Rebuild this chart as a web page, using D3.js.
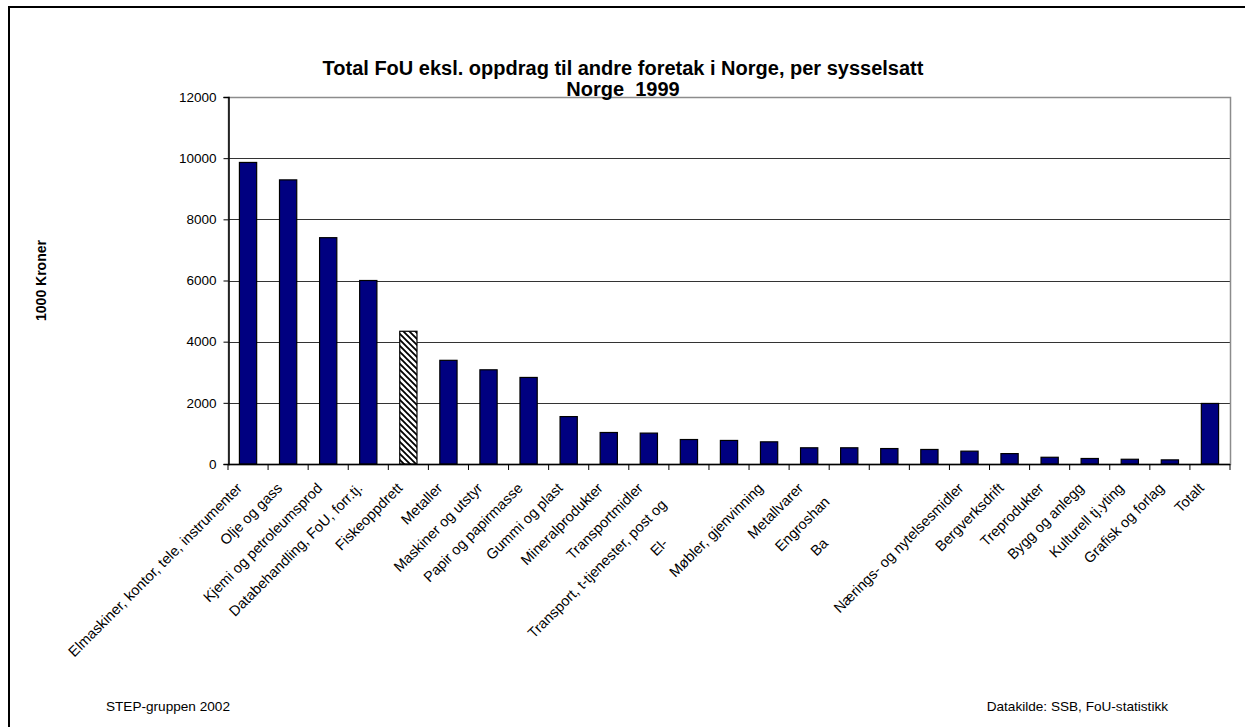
<!DOCTYPE html>
<html>
<head>
  <meta charset="UTF-8">
  <style>
    body { margin: 0; background: #fff; }
    svg { display: block; font-family: "Liberation Sans", Arial, sans-serif; }
  </style>
</head>
<body>
<svg></svg>
<script src="https://d3js.org/d3.v7.min.js"></script>
<script>

let width = 1245, height = 727;

// categories as they show on the axis (some are cut off in the original)
let categories = [
  "Elmaskiner, kontor, tele, instrumenter", "Olje og gass", "Kjemi og petroleumsprod",
  "Databehandling, FoU, forr.tj.", "Fiskeoppdrett", "Metaller", "Maskiner og utstyr",
  "Papir og papirmasse", "Gummi og plast", "Mineralprodukter", "Transportmidler",
  "Transport, t-tjenester, post og", "El-", "Møbler, gjenvinning", "Metallvarer",
  "Engroshan", "Ba", "", "Nærings- og nytelsesmidler", "Bergverksdrift",
  "Treprodukter", "Bygg og anlegg", "Kulturell tj.yting", "Grafisk og forlag", "Totalt"
];
let values = [
  9860, 9290, 7400, 6000, 4340, 3390, 3080, 2830, 1550, 1030,
  1010, 800, 770, 725, 530, 530, 505, 475, 420, 340,
  220, 180, 155, 135, 1980
];
// the cut-off part of the clipped labels, only measured, never drawn
let labelTails = ["", "", "", "", "", "", "", "", "", "", "",
  " tele", ", gass, vann", "", "", "del", "nk og finans", "", "", "", "", "", "", "", ""];
let hatchedCategory = "Fiskeoppdrett";
let yTicks = [0, 2000, 4000, 6000, 8000, 10000, 12000];

let svg = d3.select("svg")
    .attr("width", width)
    .attr("height", height);

// outer frame
svg.append("rect")
    .attr("x", 9).attr("y", 7)
    .attr("width", width).attr("height", height)
    .attr("fill", "none")
    .attr("stroke", "black")
    .attr("stroke-width", 2);

let defs = svg.append("defs");
defs.append("pattern")
    .attr("id", "hatch")
    .attr("patternUnits", "userSpaceOnUse")
    .attr("width", 6).attr("height", 6)
    .call(p => {
        p.append("rect").attr("width", 6).attr("height", 6).attr("fill", "white");
        p.append("path")
            .attr("d", "M-1,-1 L7,7 M-1,5 L1,7 M5,-1 L7,1")
            .attr("stroke", "black")
            .attr("stroke-width", 1.8);
    });

let pLeft = 228, pRight = 1230, pTop = 97, pBottom = 464;

let x = d3.scaleBand()
    .domain(d3.range(categories.length))
    .range([pLeft, pRight])
    .paddingInner(0.57)
    .paddingOuter(0.285);

let y = d3.scaleLinear()
    .domain([0, 12000])
    .range([pBottom, pTop]);

// gridlines
svg.append("g")
    .selectAll("line")
    .data(yTicks.filter(d => d > 0 && d < 12000))
    .enter()
    .append("line")
    .attr("x1", pLeft).attr("x2", pRight)
    .attr("y1", d => Math.round(y(d)) + 0.5)
    .attr("y2", d => Math.round(y(d)) + 0.5)
    .attr("stroke", "#333")
    .attr("stroke-width", 1);

// plot area border
svg.append("rect")
    .attr("x", pLeft + 0.5).attr("y", pTop + 0.5)
    .attr("width", pRight - pLeft).attr("height", pBottom - pTop)
    .attr("fill", "none")
    .attr("stroke", "#8c8c8c")
    .attr("stroke-width", 1.5);

// bars
svg.append("g")
    .selectAll("rect")
    .data(values)
    .enter()
    .append("rect")
    .attr("x", (d, i) => x(i))
    .attr("y", d => y(d))
    .attr("width", x.bandwidth())
    .attr("height", d => pBottom - y(d))
    .attr("fill", (d, i) => categories[i] === hatchedCategory ? "url(#hatch)" : "#000080")
    .attr("stroke", "black")
    .attr("stroke-width", 1.2);

// y axis
let yAxis = d3.axisLeft(y)
    .tickValues(yTicks)
    .tickSize(5)
    .tickPadding(7)
    .tickFormat(d3.format("d"));

svg.append("g")
    .attr("transform", "translate(" + (pLeft + 0.5) + ",0)")
    .call(yAxis)
    .call(g => g.select(".domain").attr("stroke", "black").attr("stroke-width", 1.5))
    .call(g => g.selectAll(".tick line").attr("stroke", "black"))
    .call(g => g.selectAll("text").attr("font-size", "13.5px").attr("fill", "black")
        .attr("font-family", "Liberation Sans, Arial, sans-serif"));

// x axis: line and ticks between categories
let step = x.step();
let xg = svg.append("g");
xg.append("line")
    .attr("x1", pLeft).attr("x2", pRight)
    .attr("y1", pBottom + 0.5).attr("y2", pBottom + 0.5)
    .attr("stroke", "black")
    .attr("stroke-width", 1.5);
xg.selectAll(".xt")
    .data(d3.range(categories.length + 1))
    .enter()
    .append("line")
    .attr("x1", i => x(0) - step * x.paddingOuter() + i * step)
    .attr("x2", i => x(0) - step * x.paddingOuter() + i * step)
    .attr("y1", pBottom).attr("y2", pBottom + 6)
    .attr("stroke", "black");

// category labels, rotated
let labelFont = 14.5;
let tailLen = labelTails.map(t => {
    if (!t) return 0;
    let tmp = svg.append("text").attr("font-size", labelFont + "px").text(t);
    let len = tmp.node().getComputedTextLength();
    tmp.remove();
    return len;
});

svg.append("g")
    .selectAll("text")
    .data(categories)
    .enter()
    .append("text")
    .attr("transform", (d, i) => "translate(" + (x(i) + x.bandwidth() / 2 - 5) + "," + (pBottom + 25) + ") rotate(-45)")
    .attr("text-anchor", "end")
    .attr("dx", (d, i) => -tailLen[i])
    .attr("font-size", labelFont + "px")
    .text(d => d);

// titles
svg.append("text")
    .attr("x", 623).attr("y", 75)
    .attr("text-anchor", "middle")
    .attr("font-weight", "bold")
    .attr("font-size", "20px")
    .text("Total FoU eksl. oppdrag til andre foretak i Norge, per sysselsatt");
svg.append("text")
    .attr("x", 623).attr("y", 96)
    .attr("text-anchor", "middle")
    .attr("font-weight", "bold")
    .attr("font-size", "20px")
    .attr("xml:space", "preserve")
    .style("white-space", "pre")
    .text("Norge  1999");

svg.append("text")
    .attr("transform", "translate(46," + ((pTop + pBottom) / 2) + ") rotate(-90)")
    .attr("text-anchor", "middle")
    .attr("font-weight", "bold")
    .attr("font-size", "14px")
    .text("1000 Kroner");

// footer
svg.append("text")
    .attr("x", 106).attr("y", 711)
    .attr("font-size", "13.6px")
    .text("STEP-gruppen 2002");
svg.append("text")
    .attr("x", 1168).attr("y", 711)
    .attr("text-anchor", "end")
    .attr("font-size", "13.6px")
    .text("Datakilde: SSB, FoU-statistikk");

</script>
</body>
</html>
